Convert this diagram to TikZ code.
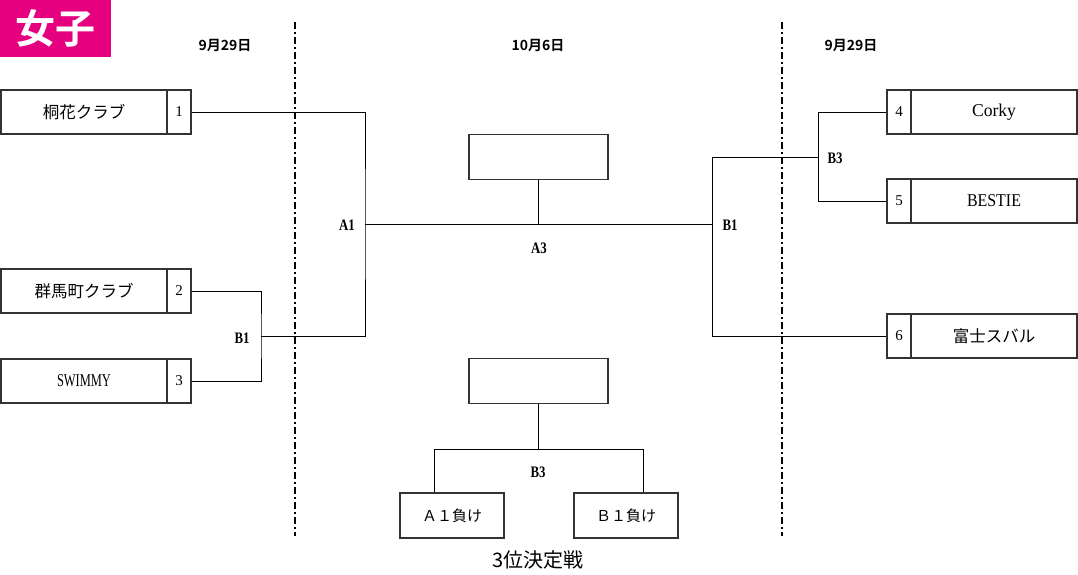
\documentclass[tikz,border=0pt]{standalone}
\usepackage{fontspec}
\setmainfont{Liberation Serif}
\newfontfamily\jp{Noto Sans CJK JP}
\newfontfamily\jpb{Noto Sans CJK JP Bold}
\newfontfamily\lbl[FakeStretch=0.8]{Liberation Serif}
\newcommand{\fitw}[2]{\resizebox{#1}{\height}{#2}}
\definecolor{pink}{HTML}{E4007F}
\definecolor{boxline}{HTML}{333333}
\tikzset{
  namebox/.style={draw=boxline, line width=1.3pt, rectangle, inner sep=0pt, minimum height=44pt, font=\jp\fontsize{16.5}{18}\selectfont},
  numbox/.style={draw=boxline, line width=1.3pt, rectangle, inner sep=0pt, minimum height=44pt, minimum width=24pt, font=\fontsize{15}{17}\selectfont},
  latname/.style={namebox, font=\fontsize{18}{20}\selectfont},
  emptybox/.style={draw=boxline, line width=1.3pt, rectangle, inner sep=0pt, minimum width=139pt, minimum height=45pt},
  losebox/.style={draw=boxline, line width=1.3pt, rectangle, inner sep=0pt, minimum width=104pt, minimum height=45pt, font=\jp\fontsize{15}{17}\selectfont},
  conn/.style={draw=black, line width=1pt},
  rlabel/.style={font=\lbl\bfseries\fontsize{16}{18}\selectfont, inner sep=0pt},
  datelabel/.style={font=\jpb\fontsize{14}{16}\selectfont, inner sep=0pt},
  sepline/.style={draw=black, line width=2pt, dash pattern=on 7pt off 3pt on 2pt off 3pt},
}
\begin{document}
\begin{tikzpicture}[x=1pt,y=-1pt]
\useasboundingbox (0,0) rectangle (1078,574);
% title
\node[fill=pink, minimum width=111pt, minimum height=57pt, inner sep=0pt, anchor=north west, text=white, font=\jpb\fontsize{40}{44}\selectfont] (title) at (0,0) {女子};
% dates
\node[datelabel] (d1) at (225,46) {9月29日};
\node[datelabel] (d2) at (538,46) {10月6日};
\node[datelabel] (d3) at (851,46) {9月29日};
% separators
\coordinate (s1t) at (295,22); \coordinate (s1b) at (295,536);
\coordinate (s2t) at (782,22); \coordinate (s2b) at (782,536);
\draw[sepline] (s1t) -- (s1b);
\draw[sepline] (s2t) -- (s2b);
% left teams
\node[namebox, minimum width=166pt] (t1) at (84,112) {桐花クラブ};
\node[numbox] (n1) at (179,112) {1};
\node[namebox, minimum width=166pt] (t2) at (84,291) {群馬町クラブ};
\node[numbox] (n2) at (179,291) {2};
\node[latname, minimum width=166pt] (t3) at (84,381) {\fitw{54pt}{SWIMMY}};
\node[numbox] (n3) at (179,381) {3};
% right teams
\node[numbox] (n4) at (899,112) {4};
\node[latname, minimum width=166pt] (t4) at (994,112) {\fitw{44pt}{Corky}};
\node[numbox] (n5) at (899,201) {5};
\node[latname, minimum width=166pt] (t5) at (994,201) {\fitw{54pt}{BESTIE}};
\node[numbox] (n6) at (899,336) {6};
\node[namebox, minimum width=166pt] (t6) at (994,336) {富士スバル};
% junctions
\coordinate (jB1L) at (261,336);
\coordinate (jA1) at (365,224);
\coordinate (jB1R) at (712,224);
\coordinate (jB3R) at (818,157);
% left bracket
\draw[conn] (n2.east) -| (jB1L) |- (n3.east);
\draw[conn] (n1.east) -| (jA1) |- (jB1L);
\node[rlabel] (lB1L) at (242,338) {B1};
\node[rlabel] (lA1) at (347,225) {A1};
% final
\node[emptybox] (fin) at (538.5,157) {};
\coordinate (jA3) at (fin.south |- jA1);
\draw[conn] (jA1) -- (jB1R);
\draw[conn] (fin.south) -- (jA3);
\node[rlabel] (lA3) at (539,248) {A3};
% right bracket
\draw[conn] (n4.west) -| (jB3R) |- (n5.west);
\draw[conn] (jB3R) -| (jB1R) |- (n6.west);
\node[rlabel] (lB1R) at (730,225) {B1};
\node[rlabel] (lB3R) at (835,158) {B3};
% third place
\node[emptybox] (third) at (538.5,381) {};
\node[losebox] (la) at (452,515.5) {Ａ１負け};
\node[losebox] (lb) at (626,515.5) {Ｂ１負け};
\coordinate (j3) at (538.5,449);
\coordinate (j3l) at (434,449);
\coordinate (j3r) at (643,449);
\draw[conn] (third.south) -- (j3);
\draw[conn] (la.north -| j3l) -- (j3l) -- (j3r) -- (lb.north -| j3r);
\node[rlabel] (lB3b) at (538,472) {B3};
\node[font=\jp\fontsize{20}{22}\selectfont, inner sep=0pt] (cap) at (538,560) {3位決定戦};
\end{tikzpicture}
\end{document}
